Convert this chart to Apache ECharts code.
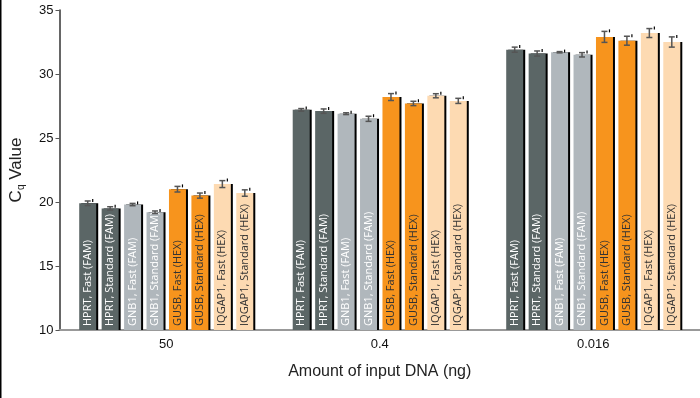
<!DOCTYPE html>
<html>
<head>
<meta charset="utf-8">
<script src="https://cdn.jsdelivr.net/npm/echarts@6/dist/echarts.min.js"></script>
<style>
  html, body { margin: 0; padding: 0; background: #fff; }
  #graph { width: 700px; height: 398px; }
</style>
</head>
<body>
<div id="graph"></div>
<script>
// amounts of input DNA (x axis categories)
var amounts = ['50', '0.4', '0.016'];

// assay names, one bar series each
var assays = ['HPRT, Fast (FAM)', 'HPRT, Standard (FAM)', 'GNB1, Fast (FAM)', 'GNB1, Standard (FAM)',
              'GUSB, Fast (HEX)', 'GUSB, Standard (HEX)', 'IQGAP1, Fast (HEX)', 'IQGAP1, Standard (HEX)'];

// Cq values per assay, one value per amount
var hprtFast = [19.9, 27.2, 31.9];
var hprtStandard = [19.5, 27.1, 31.6];
var gnb1Fast = [19.8, 26.9, 31.7];
var gnb1Standard = [19.2, 26.5, 31.5];
var gusbFast = [21.0, 28.2, 32.9];
var gusbStandard = [20.5, 27.7, 32.6];
var iqgap1Fast = [21.4, 28.3, 33.2];
var iqgap1Standard = [20.7, 27.9, 32.5];

// standard deviations (error bars)
var hprtFastErr = [0.18, 0.1, 0.2];
var hprtStandardErr = [0.13, 0.17, 0.2];
var gnb1FastErr = [0.09, 0.07, 0.05];
var gnb1StandardErr = [0.1, 0.2, 0.17];
var gusbFastErr = [0.22, 0.27, 0.43];
var gusbStandardErr = [0.2, 0.17, 0.35];
var iqgap1FastErr = [0.27, 0.16, 0.35];
var iqgap1StandardErr = [0.25, 0.2, 0.4];

var values = [hprtFast, hprtStandard, gnb1Fast, gnb1Standard, gusbFast, gusbStandard, iqgap1Fast, iqgap1Standard];
var errors = [hprtFastErr, hprtStandardErr, gnb1FastErr, gnb1StandardErr, gusbFastErr, gusbStandardErr, iqgap1FastErr, iqgap1StandardErr];

// y axis ticks
var yMin = 10, yMax = 35, yStep = 5;

var colors = ['#5b6666', '#5b6666', '#b0b7bc', '#b0b7bc', '#f7941d', '#f7941d', '#fddab2', '#fddab2'];
var labelColors = ['#fff', '#fff', '#fff', '#fff', '#333', '#333', '#333', '#333'];

var barWidth = 17;
var gapRatio = 0.32;
var stride = barWidth * (1 + gapRatio);

var chart = echarts.init(document.getElementById('graph'));

var series = [];

// bars with the assay name written inside
assays.forEach(function (name, i) {
    series.push({
        name: name,
        type: 'bar',
        data: values[i],
        barWidth: barWidth,
        barGap: (gapRatio * 100) + '%',
        itemStyle: {
            color: colors[i],
            shadowColor: '#000',
            shadowOffsetX: 2,
            shadowOffsetY: 0,
            shadowBlur: 0
        },
        label: {
            show: true,
            position: 'insideBottom',
            distance: 4,
            rotate: 90,
            align: 'left',
            verticalAlign: 'middle',
            formatter: name,
            color: labelColors[i],
            fontFamily: 'Open Sans',
            fontSize: 11
        },
        z: 2
    });
});

// error bars drawn over each bar
assays.forEach(function (name, i) {
    var offset = (i - (assays.length - 1) / 2) * stride;
    series.push({
        type: 'custom',
        name: name + ' err',
        data: values[i].map(function (v, k) { return [k, v - errors[i][k], v + errors[i][k]]; }),
        renderItem: function (params, api) {
            var lo = api.coord([api.value(0), api.value(1)]);
            var hi = api.coord([api.value(0), api.value(2)]);
            var x = lo[0] + offset;
            var style = { stroke: '#555', lineWidth: 1.5 };
            return {
                type: 'group',
                children: [
                    { type: 'line', shape: { x1: x, y1: hi[1], x2: x, y2: lo[1] }, style: style },
                    { type: 'line', shape: { x1: x - 3, y1: hi[1], x2: x + 3, y2: hi[1] }, style: style },
                    { type: 'line', shape: { x1: x - 3, y1: lo[1], x2: x + 3, y2: lo[1] }, style: style },
                    { type: 'line', shape: { x1: x + 5, y1: hi[1] - 2, x2: x + 5, y2: hi[1] + 1 }, style: { stroke: '#000', lineWidth: 1.2 } }
                ]
            };
        },
        z: 5
    });
});

var option = {
    animation: false,
    grid: { left: 58, right: 0, top: 10, bottom: 68 },
    xAxis: {
        type: 'category',
        data: amounts,
        name: 'Amount of input DNA (ng)',
        nameLocation: 'middle',
        nameGap: 34,
        nameTextStyle: { color: '#222', fontSize: 16, fontFamily: 'Liberation Sans' },
        axisLine: { lineStyle: { color: '#999', width: 2 } },
        axisTick: { alignWithLabel: true, length: 4, lineStyle: { color: '#555' } },
        axisLabel: { color: '#111', fontSize: 13, margin: 8, fontFamily: 'Liberation Sans' }
    },
    yAxis: {
        type: 'value',
        min: yMin,
        max: yMax,
        interval: yStep,
        name: '{c|C}{q|q}{c| Value}',
        nameLocation: 'middle',
        nameGap: 33,
        nameTextStyle: {
            rich: {
                c: { fontSize: 17, color: '#222', fontFamily: 'Liberation Sans' },
                q: { fontSize: 10, color: '#222', fontFamily: 'Liberation Sans', padding: [10, 0, 0, 0] }
            }
        },
        splitLine: { show: false },
        axisLine: { show: true, lineStyle: { color: '#333', width: 1.5 } },
        axisTick: { show: true, length: 4, lineStyle: { color: '#555' } },
        axisLabel: { color: '#111', fontSize: 13, margin: 6, fontFamily: 'Liberation Sans' }
    },
    graphic: [{
        type: 'rect',
        shape: { x: 0, y: 0, width: 1.5, height: 398 },
        style: { fill: '#000' }
    }],
    series: series
};

chart.setOption(option);
</script>
</body>
</html>
